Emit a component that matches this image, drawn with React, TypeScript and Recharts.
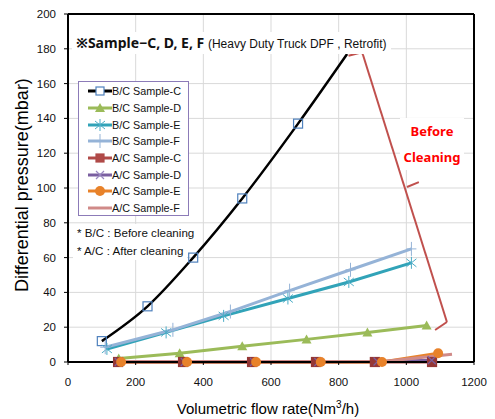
import {
  ComposedChart, Line, XAxis, YAxis, CartesianGrid, Legend, ReferenceLine,
} from 'recharts'

const xTicks = [0, 200, 400, 600, 800, 1000, 1200]
const yTicks = [0, 20, 40, 60, 80, 100, 120, 140, 160, 180, 200]

// B/C = before cleaning
const bcCx = [100, 235, 370, 515, 680, 825]
const bcCy = [12, 32, 60, 94, 137, 177]
const bcDx = [150, 330, 515, 705, 885, 1060]
const bcDy = [2, 5, 9, 13, 17, 21]
const bcEx = [115, 290, 460, 650, 830, 1015]
const bcEy = [7.5, 17, 26.5, 36.5, 46, 57]
const bcFx = [110, 310, 480, 655, 835, 1015]
const bcFy = [8.5, 18.5, 29, 41, 53, 65]

// A/C = after cleaning
const acCx = [148, 340, 544, 733, 907, 1076]
const acCy = [0, 0, 0, 0, 0, 0]
const acDx = [150, 345, 550, 740, 915, 1075]
const acDy = [0, 0, 0, 0, 0.3, 1]
const acEx = [157, 352, 556, 747, 928, 1094]
const acEy = [0, 0, 0, 0, 0, 5]
const acFx = [150, 345, 550, 740, 940, 1135]
const acFy = [0.3, 0.3, 0.3, 0.3, 0.5, 4.5]

// bracket drawn next to the B/C curves
const bracketX = [829, 869, 872, 1120, 1085]
const bracketY = [176, 178, 176.4, 23, 18.4]
const bracketTickX = [1002, 1037]
const bracketTickY = [100.6, 103.4]

const zip = (xs: number[], ys: number[]) => xs.map((x, i) => ({ x, y: ys[i] }))

type DotProps = { cx?: number; cy?: number; index?: number }

const square = (stroke: string, fill: string, s: number) => (p: DotProps) => (
  <rect key={`sq-${p.index}`} x={(p.cx ?? 0) - s / 2} y={(p.cy ?? 0) - s / 2} width={s} height={s} stroke={stroke} strokeWidth={1.2} fill={fill} />
)
const triangle = (c: string) => (p: DotProps) => {
  const x = p.cx ?? 0, y = p.cy ?? 0
  return <path key={`tr-${p.index}`} d={`M${x},${y - 5}L${x + 5},${y + 4}L${x - 5},${y + 4}Z`} fill={c} />
}
const asterisk = (c: string) => (p: DotProps) => {
  const x = p.cx ?? 0, y = p.cy ?? 0
  return (
    <path key={`as-${p.index}`} d={`M${x},${y - 6}V${y + 6}M${x - 5},${y - 4}L${x + 5},${y + 4}M${x - 5},${y + 4}L${x + 5},${y - 4}`} stroke={c} strokeWidth={1} fill="none" />
  )
}
const plus = (c: string) => (p: DotProps) => {
  const x = p.cx ?? 0, y = p.cy ?? 0
  return <path key={`pl-${p.index}`} d={`M${x},${y - 7}V${y + 7}M${x - 5},${y}H${x + 5}`} stroke={c} strokeWidth={1} fill="none" />
}
const cross = (c: string) => (p: DotProps) => {
  const x = p.cx ?? 0, y = p.cy ?? 0
  return <path key={`cr-${p.index}`} d={`M${x - 4},${y - 4}L${x + 4},${y + 4}M${x - 4},${y + 4}L${x + 4},${y - 4}`} stroke={c} strokeWidth={1.2} fill="none" />
}
const circle = (c: string) => (p: DotProps) => (
  <circle key={`ci-${p.index}`} cx={p.cx} cy={p.cy} r={5} fill={c} />
)

const series = [
  { name: 'B/C Sample-C', color: '#000000', data: zip(bcCx, bcCy), dot: (p: DotProps) => ((p.index ?? 0) < 5 ? square('#4f81bd', 'none', 9)(p) : <g key={`n-${p.index}`} />), icon: square('#4f81bd', '#fff', 8), type: 'monotone' },
  { name: 'B/C Sample-D', color: '#9bbb59', data: zip(bcDx, bcDy), dot: triangle('#9bbb59'), icon: triangle('#9bbb59'), type: 'linear' },
  { name: 'B/C Sample-E', color: '#31a3b8', data: zip(bcEx, bcEy), dot: asterisk('#4bacc6'), icon: asterisk('#4bacc6'), type: 'linear' },
  { name: 'B/C Sample-F', color: '#95b3d7', data: zip(bcFx, bcFy), dot: plus('#95b3d7'), icon: plus('#95b3d7'), type: 'linear' },
  { name: 'A/C Sample-C', color: '#b04a48', data: zip(acCx, acCy), dot: square('#953735', '#953735', 9), icon: square('#b04a48', '#b04a48', 8), type: 'linear' },
  { name: 'A/C Sample-D', color: '#7a5fa0', data: zip(acDx, acDy), dot: cross('#7a5fa0'), icon: cross('#9a88c0'), type: 'linear' },
  { name: 'A/C Sample-E', color: '#e8822a', data: zip(acEx, acEy), dot: circle('#e8822a'), icon: circle('#e8822a'), type: 'linear' },
  { name: 'A/C Sample-F', color: '#d08a88', data: zip(acFx, acFy), dot: false, icon: null, type: 'linear' },
]

function LegendBox() {
  return (
    <div style={{ width: 111, height: 135, border: '1px solid #8c7bb8', background: '#fff', paddingTop: 1, boxSizing: 'border-box' }}>
      {series.map((s) => (
        <div key={s.name} style={{ display: 'flex', alignItems: 'center', height: 16.7 }}>
          <svg width={24} height={14} style={{ marginLeft: 9, overflow: 'visible' }}>
            <line x1={0} y1={7} x2={24} y2={7} stroke={s.color} strokeWidth={3} />
            {s.icon ? s.icon({ cx: 12, cy: 7, index: 0 }) : null}
          </svg>
          <span style={{ fontFamily: 'Liberation Sans, Arial, sans-serif', fontSize: 10.8, color: '#111', whiteSpace: 'nowrap' }}>{s.name}</span>
        </div>
      ))}
    </div>
  )
}

const XTitle = (props: { viewBox?: { x: number; y: number; width: number; height: number } }) => {
  const vb = props.viewBox ?? { x: 68, y: 362, width: 406, height: 57 }
  return (
    <text x={vb.x + vb.width / 2 - 3} y={414} textAnchor="middle" fontSize={15} fill="#000" fontFamily="Liberation Sans, Arial, sans-serif">
      Volumetric flow rate(Nm<tspan dy={-6} fontSize={10}>3</tspan><tspan dy={6}>/h)</tspan>
    </text>
  )
}

const YTitle = () => (
  <text x={0} y={0} transform="translate(28,185) rotate(-90)" textAnchor="middle" fontSize={18} fill="#000" fontFamily="Liberation Sans, Arial, sans-serif">
    Differential pressure(mbar)
  </text>
)

export default function App() {
  return (
    <div style={{ position: 'absolute', left: 0, top: 0, width: 495, height: 419, background: '#fff' }}>
      <ComposedChart width={495} height={419} margin={{ top: 14, right: 21, left: 0, bottom: 0 }}>
        <CartesianGrid stroke="#d9d9d9" strokeWidth={1} />
        <XAxis
          type="number" dataKey="x" domain={[0, 1200]} ticks={xTicks} height={57}
          stroke="#000" axisLine={{ stroke: '#000', strokeWidth: 2 }} tickSize={3}
          tick={{ fill: '#111', fontSize: 11.5, fontFamily: 'Liberation Sans, Arial, sans-serif' }}
          tickMargin={13} label={<XTitle />} allowDataOverflow
        />
        <YAxis
          type="number" domain={[0, 200]} ticks={yTicks} width={68}
          stroke="#000" axisLine={{ stroke: '#000', strokeWidth: 2 }} tickSize={4}
          tick={{ fill: '#111', fontSize: 11.5, fontFamily: 'Liberation Sans, Arial, sans-serif' }}
          tickMargin={8} label={<YTitle />}
        />
        <ReferenceLine y={200} stroke="#000" strokeWidth={2} />
        <ReferenceLine x={1200} stroke="#000" strokeWidth={2} />
        {series.map((s) => (
          <Line
            key={s.name} name={s.name} data={s.data} dataKey="y" type={s.type as 'linear'}
            stroke={s.color} strokeWidth={s.name === 'B/C Sample-C' ? 2.5 : 3}
            dot={s.dot as never} activeDot={false} isAnimationActive={false} legendType="none"
          />
        ))}
        {bracketX.slice(0, -1).map((x, i) => (
          <ReferenceLine
            key={`br-${i}`} stroke="#c0504d" strokeWidth={2}
            segment={[{ x, y: bracketY[i] }, { x: bracketX[i + 1], y: bracketY[i + 1] }]}
          />
        ))}
        <ReferenceLine
          stroke="#c0504d" strokeWidth={2}
          segment={[{ x: bracketTickX[0], y: bracketTickY[0] }, { x: bracketTickX[1], y: bracketTickY[1] }]}
        />
        <Legend
          layout="vertical" align="center" verticalAlign="middle"
          content={() => <LegendBox />}
          wrapperStyle={{ left: 78, top: 81, width: 111, height: 135 }}
        />
      </ComposedChart>

      <div style={{ position: 'absolute', left: 72, top: 32, height: 22, paddingLeft: 4, paddingRight: 4, background: '#fff', whiteSpace: 'nowrap', fontFamily: 'Liberation Sans, Arial, sans-serif', fontSize: 12, lineHeight: '22px', color: '#111' }}>
        <span style={{ fontWeight: 'bold', fontFamily: 'Noto Sans, sans-serif', fontSize: 14 }}>※Sample−C, D, E, F </span>
        <span>(Heavy Duty Truck DPF , Retrofit)</span>
      </div>

      <div style={{ position: 'absolute', left: 73, top: 224, width: 106, height: 36, padding: '0 4px', background: '#fff', fontFamily: 'Liberation Sans, Arial, sans-serif', fontSize: 11.6, lineHeight: '18px', color: '#111', whiteSpace: 'nowrap', overflow: 'visible' }}>
        <div>* B/C : Before cleaning</div>
        <div>* A/C : After cleaning</div>
      </div>

      <div style={{ position: 'absolute', left: 400, top: 118, width: 64, background: '#fff', textAlign: 'center', fontFamily: 'Noto Sans, sans-serif', fontWeight: 'bold', fontSize: 13, lineHeight: '26px', color: '#ff0000' }}>
        <div>Before</div>
        <div>Cleaning</div>
      </div>
    </div>
  )
}
